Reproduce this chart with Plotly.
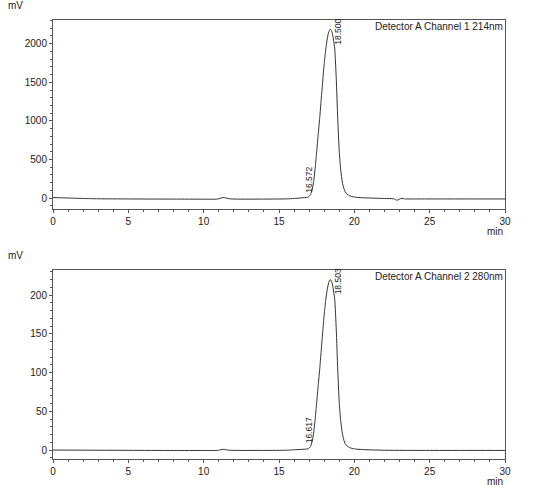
import plotly.graph_objects as go
from plotly.subplots import make_subplots

# retention time (min)
time_ch1 = [0, 1, 2, 3, 5, 8, 10, 10.9, 11.3, 11.7, 12.2, 14, 15.5, 16.0, 16.5, 16.9,
            17.0, 17.1, 17.2, 17.3, 17.4, 17.5, 17.6, 17.7, 17.8, 17.9, 18.0, 18.1,
            18.2, 18.3, 18.4, 18.5, 18.6, 18.7, 18.8, 18.9, 19.0, 19.1, 19.2, 19.3,
            19.4, 19.5, 19.7, 20.0, 20.5, 22.0, 22.6, 22.85, 23.1, 23.4, 24, 26, 28, 30]
signal_ch1 = [8, 2, -4, -8, -10, -12, -13, -12, 8, -8, -12, -12, -9, -4, 4, 12,
              25, 50, 110, 215, 390, 600, 820, 1035, 1275, 1510, 1740, 1920,
              2060, 2150, 2186, 2160, 2070, 1930, 1550, 1020, 600, 360, 210, 130,
              80, 55, 30, 15, 6, -4, -8, -26, -4, -10, -10, -10, -10, -10]

time_ch2 = [0, 2, 5, 8, 10, 10.9, 11.3, 11.7, 12.2, 14, 15.5, 16.0, 16.5, 16.9,
            17.0, 17.1, 17.2, 17.3, 17.4, 17.5, 17.6, 17.7, 17.8, 17.9, 18.0, 18.1,
            18.2, 18.3, 18.4, 18.5, 18.6, 18.7, 18.8, 18.9, 19.0, 19.1, 19.2, 19.3,
            19.4, 19.5, 19.7, 20.0, 20.5, 22, 25, 28, 30]
signal_ch2 = [0, -0.2, -0.4, -0.6, -0.6, -0.5, 0.9, -0.3, -0.5, -0.5, -0.3, 0.3, 0.8, 1.5,
              2.5, 5, 11, 22, 40, 61, 83, 104, 128, 152, 175, 193,
              207, 216, 220, 217, 208, 194, 156, 103, 61, 37, 22, 13,
              8, 5.5, 3, 1.5, 0.6, -0.3, -0.5, -0.5, -0.5]

# peak tables
peaks_ch1 = [16.572, 18.500]
peak_labels_ch1 = ["16.572", "18.500"]
peaks_ch2 = [16.617, 18.503]
peak_labels_ch2 = ["16.617", "18.503"]

channel_names = ["Detector A Channel 1 214nm", "Detector A Channel 2 280nm"]

font = "Liberation Sans, Arial, sans-serif"
axis_color = "#555555"

fig = make_subplots(rows=2, cols=1, vertical_spacing=0.139)

fig.add_trace(go.Scatter(x=time_ch1, y=signal_ch1, mode="lines",
                         line=dict(color="#333333", width=1, shape="spline", smoothing=0.6)),
              row=1, col=1)
fig.add_trace(go.Scatter(x=time_ch2, y=signal_ch2, mode="lines",
                         line=dict(color="#333333", width=1, shape="spline", smoothing=0.6)),
              row=2, col=1)

# peak labels, vertical text to the right of each retention time
label_y_ch1 = [40, 1957]
label_y_ch2 = [6.5, 198]
for rt, txt, yy in zip(peaks_ch1, peak_labels_ch1, label_y_ch1):
    fig.add_annotation(x=rt, y=yy, xref="x", yref="y", text=txt, textangle=-90,
                       showarrow=False, xshift=6, yanchor="bottom",
                       font=dict(family=font, size=8.5, color="#222"))
for rt, txt, yy in zip(peaks_ch2, peak_labels_ch2, label_y_ch2):
    fig.add_annotation(x=rt, y=yy, xref="x2", yref="y2", text=txt, textangle=-90,
                       showarrow=False, xshift=6, yanchor="bottom",
                       font=dict(family=font, size=8.5, color="#222"))

for i, name in enumerate(channel_names):
    ya = "y domain" if i == 0 else "y2 domain"
    xa = "x domain" if i == 0 else "x2 domain"
    fig.add_annotation(x=1, y=1, xref=xa, yref=ya, text=name, showarrow=False,
                       xanchor="right", yanchor="top", yshift=1,
                       font=dict(family=font, size=10, color="#222"))
    fig.add_annotation(x=1, y=0, xref=xa, yref=ya, text="min", showarrow=False,
                       xanchor="right", yanchor="top", yshift=-15,
                       font=dict(family=font, size=10, color="#222"))
    fig.add_annotation(x=0, y=1, xref=xa, yref=ya, text="mV", showarrow=False,
                       xanchor="left", yanchor="middle", xshift=-47, yshift=14.5,
                       font=dict(family=font, size=10, color="#222"))

axis_common = dict(showline=True, mirror=True, linecolor=axis_color, linewidth=1,
                   showgrid=False, zeroline=False, ticks="outside", ticklen=3,
                   tickcolor=axis_color, tickfont=dict(family=font, size=10, color="#222"))

for r in (1, 2):
    fig.update_xaxes(range=[0, 30], dtick=5, tick0=0,
                     minor=dict(dtick=1, ticks="outside", ticklen=2, tickcolor=axis_color),
                     row=r, col=1, **axis_common)

fig.update_yaxes(range=[-140, 2306], dtick=500, tick0=0,
                 minor=dict(dtick=100, ticks="outside", ticklen=2, tickcolor=axis_color),
                 row=1, col=1, **axis_common)
fig.update_yaxes(range=[-11.6, 232.3], dtick=50, tick0=0,
                 minor=dict(dtick=10, ticks="outside", ticklen=2, tickcolor=axis_color),
                 row=2, col=1, **axis_common)

fig.update_layout(width=543, height=490, showlegend=False,
                  margin=dict(l=53, r=38, t=20, b=31),
                  plot_bgcolor="white", paper_bgcolor="white")

# drop the default page margin so the figure sits at the window's corner
fig.write_html("out.html", config={"displayModeBar": False},
               post_script="document.body.style.margin='0';document.body.style.overflow='hidden';")
